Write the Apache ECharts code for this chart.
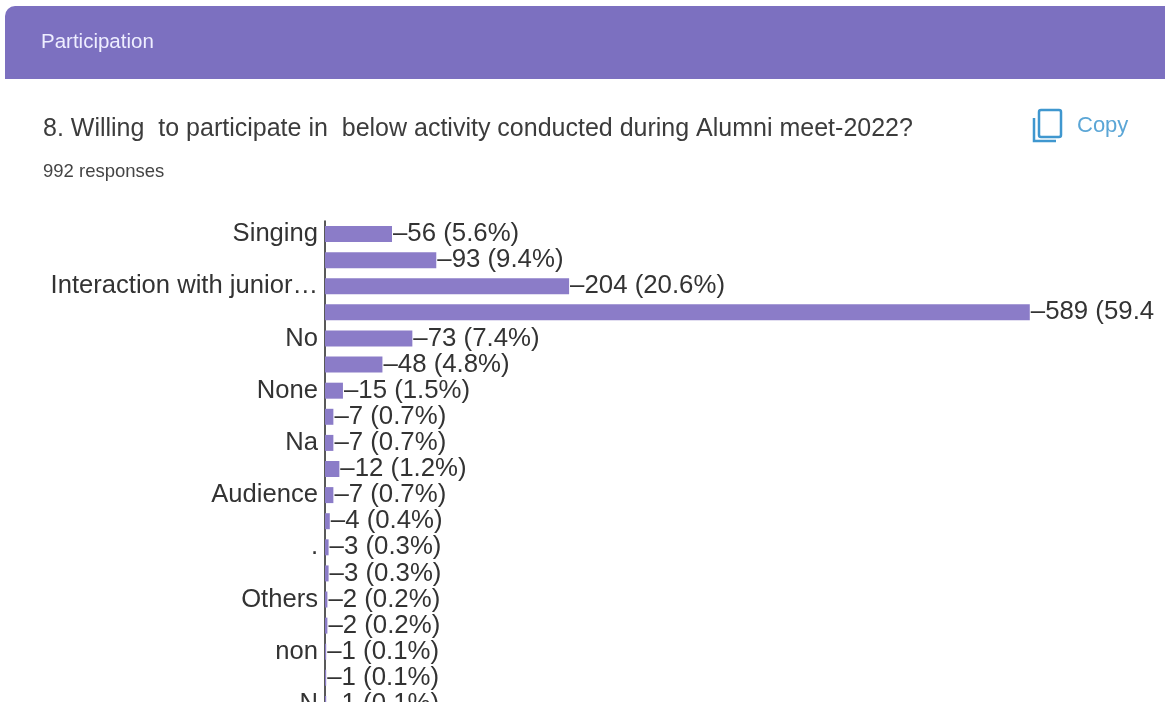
<!DOCTYPE html>
<html><head><meta charset="utf-8">
<style>html,body{margin:0;padding:0;background:#fff}#c{width:1165px;height:706px}</style>
<script src="https://cdn.jsdelivr.net/npm/echarts@6/dist/echarts.min.js"></script>
</head><body><div id="c"></div>
<script>
const categories = ['Singing','','Interaction with junior…','','No','','None','','Na','','Audience','','.','','Others','','non','','N'];
const counts = [56,93,204,589,73,48,15,7,7,12,7,4,3,3,2,2,1,1,1];
const percents = ['5.6','9.4','20.6','59.4','7.4','4.8','1.5','0.7','0.7','1.2','0.7','0.4','0.3','0.3','0.2','0.2','0.1','0.1','0.1'];
const sectionTitle = 'Participation';
const question = '8. Willing  to participate in  below activity conducted during Alumni meet-2022?';
const responses = '992 responses';
const copyLabel = 'Copy';
const font = 'Arial, "Liberation Sans", sans-serif';
const chart = echarts.init(document.getElementById('c'), null, {renderer:'canvas'});
chart.setOption({
  animation:false,
  backgroundColor:'#fff',
  grid:{left:325,top:221,width:840,height:496,containLabel:false,outerBoundsMode:'none'},
  xAxis:{type:'value',min:0,max:702,show:false},
  yAxis:{type:'category',inverse:true,data:categories,
    axisLine:{show:true,lineStyle:{color:'#222',width:1.5}},
    axisTick:{show:false},
    axisLabel:{interval:0,margin:7,fontSize:25.6,color:'#333',fontFamily:font}},
  series:[{type:'bar',data:counts,barWidth:16,
    itemStyle:{color:'#8b7cc8'},
    label:{show:true,position:'right',distance:1,fontSize:25.8,color:'#333',fontFamily:font,
      formatter:p=>'–'+counts[p.dataIndex]+' ('+percents[p.dataIndex]+'%)'}}],
  graphic:[
    {type:'rect',z:100,shape:{x:5,y:6,width:1170,height:73,r:[10,0,0,0]},style:{fill:'#7c70c0'}},
    {type:'text',z:101,style:{x:41,y:42,text:sectionTitle,fill:'#eef',font:'20.5px '+font,verticalAlign:'middle'}},
    {type:'text',z:101,style:{x:43,y:129,text:question,fill:'#3c3c3c',font:'25px '+font,verticalAlign:'middle'}},
    {type:'text',z:101,style:{x:43,y:172,text:responses,fill:'#444',font:'18.5px '+font,verticalAlign:'middle'}},
    {type:'text',z:101,style:{x:1077,y:126,text:copyLabel,fill:'#5ba6d6',font:'22px '+font,verticalAlign:'middle'}},
    {type:'rect',z:101,shape:{x:1039,y:110,width:22,height:27,r:2},style:{fill:'none',stroke:'#3f97cf',lineWidth:2.5}},
    {type:'polyline',z:101,shape:{points:[[1034,118],[1034,141],[1056,141]]},style:{fill:'none',stroke:'#3f97cf',lineWidth:2.5}},
    {type:'rect',z:102,shape:{x:1155,y:290,width:12,height:45},style:{fill:'#fff'}},
    {type:'rect',z:102,shape:{x:0,y:702,width:1165,height:5},style:{fill:'#fff'}}
  ]
});
</script></body></html>
